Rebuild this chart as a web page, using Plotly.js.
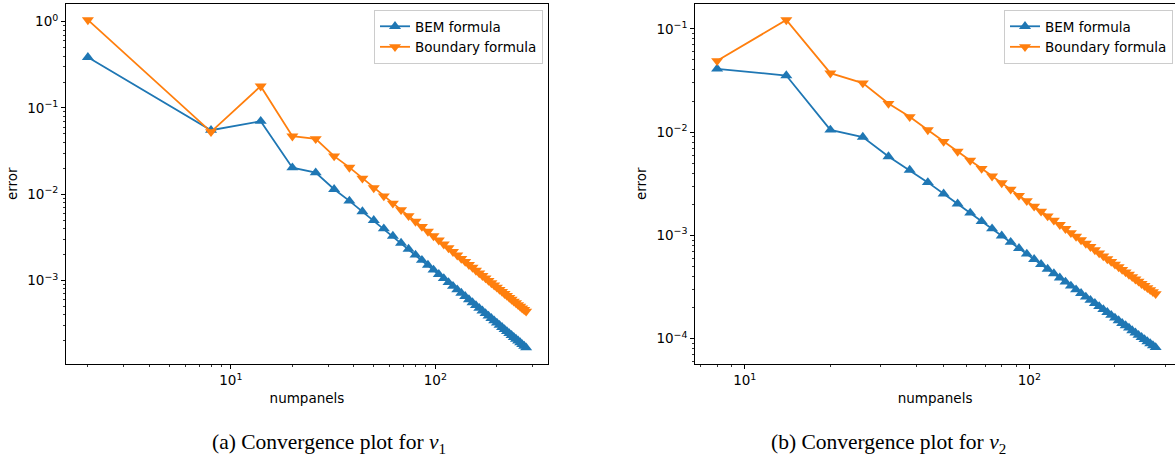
<!DOCTYPE html>
<html>
<head>
<meta charset="utf-8">
<script src="https://cdn.plot.ly/plotly-3.0.1.min.js"></script>
<style>html,body{margin:0;padding:0;background:#fff;}#chart{width:1175px;height:462px;}</style>
</head>
<body>
<div id="chart"></div>
<script>
// ---- data ----
const numpanelsA = [2,8,14,20,26,32,38,44,50,56,62,68,74,80,86,92,98,104,110,116,122,128,134,140,146,152,158,164,170,176,182,188,194,200,206,212,218,224,230,236,242,248,254,260,266,272,278];
const bemA = [0.387,0.0553,0.0703,0.0203,0.0178,0.01143,0.00838,0.00630,0.00500,0.00399,0.00328,0.00272,0.00232,0.00198,0.00172,0.00151,0.00133,0.001183,0.001058,0.000951,0.000860,0.000784,0.000716,0.000656,0.000603,0.000556,0.000515,0.000478,0.000446,0.000416,0.000389,0.000365,0.000343,0.000323,0.000304,0.000287,0.000271,0.000257,0.000244,0.000232,0.000220,0.000210,0.000200,0.000191,0.000182,0.000174,0.000167];
const boundaryA = [1.05,0.0529,0.179,0.0472,0.044,0.0277,0.0205,0.01533,0.01186,0.00953,0.00786,0.00660,0.00562,0.00484,0.00422,0.00371,0.00329,0.00294,0.00264,0.00239,0.00216,0.00197,0.00180,0.00166,0.00153,0.00142,0.00131,0.00122,0.00114,0.00107,0.00100,0.000939,0.000885,0.000835,0.000787,0.000745,0.000705,0.000670,0.000635,0.000605,0.000575,0.000550,0.000524,0.000501,0.000479,0.000460,0.000440];

const numpanelsB = [8,14,20,26,32,38,44,50,56,62,68,74,80,86,92,98,104,110,116,122,128,134,140,146,152,158,164,170,176,182,188,194,200,206,212,218,224,230,236,242,248,254,260,266,272,278];
const bemB = [0.041,0.0353,0.0105,0.00895,0.0058,0.00429,0.00326,0.00253,0.00202,0.00165,0.00137,0.00116,0.000992,0.000859,0.000750,0.000661,0.000587,0.000525,0.000472,0.000427,0.000388,0.000354,0.000324,0.000298,0.000275,0.000254,0.000236,0.000220,0.000205,0.000192,0.000180,0.000169,0.000159,0.000150,0.000141,0.000134,0.000127,0.000120,0.000114,0.000108,0.000103,0.0000984,0.0000939,0.0000897,0.0000858,0.0000822];
const boundaryB = [0.049,0.122,0.0372,0.0298,0.0189,0.01406,0.0105,0.0081,0.00649,0.00531,0.00444,0.00374,0.00322,0.00279,0.00243,0.00216,0.00191,0.00171,0.00154,0.00140,0.00127,0.00116,0.00106,0.000976,0.000905,0.000837,0.000777,0.000723,0.000675,0.000631,0.000591,0.000558,0.000525,0.000495,0.000467,0.000442,0.000419,0.000397,0.000377,0.000359,0.000341,0.000326,0.000311,0.000297,0.000284,0.000272];

const seriesNames = ["BEM formula", "Boundary formula"];
const xTickVals = [10, 100];
const xTickText = ["10<sup>1</sup>", "10<sup>2</sup>"];
const yTickValsA = [1, 0.1, 0.01, 0.001];
const yTickTextA = ["10<sup>0</sup>", "10<sup>−1</sup>", "10<sup>−2</sup>", "10<sup>−3</sup>"];
const yTickValsB = [0.1, 0.01, 0.001, 0.0001];
const yTickTextB = ["10<sup>−1</sup>", "10<sup>−2</sup>", "10<sup>−3</sup>", "10<sup>−4</sup>"];
const captions = ["(a) Convergence plot for <i>ν</i><sub>1</sub>", "(b) Convergence plot for <i>ν</i><sub>2</sub>"];
const xTitle = "numpanels";
const yTitle = "error";

// minor tick positions (2..9 per decade)
function minors(lo, hi) {
  const out = [];
  for (let e = lo; e <= hi; e++) for (let m = 2; m <= 9; m++) out.push(m * Math.pow(10, e));
  return out;
}

const blue = "#1f77b4", orange = "#ff7f0e";
const FONT = {family: "DejaVu Sans", size: 13.5, color: "#000"};

function tr(x, y, name, color, sym, xa, ya, leg) {
  return {x, y, name, type: "scatter", mode: "lines+markers", xaxis: xa, yaxis: ya, legend: leg,
    line: {color, width: 1.8}, marker: {color, symbol: sym, size: 10.5, line: {width: 0}}};
}

const data = [
  tr(numpanelsA, bemA, seriesNames[0], blue, "triangle-up", "x", "y", "legend"),
  tr(numpanelsA, boundaryA, seriesNames[1], orange, "triangle-down", "x", "y", "legend"),
  tr(numpanelsB, bemB, seriesNames[0], blue, "triangle-up", "x2", "y2", "legend2"),
  tr(numpanelsB, boundaryB, seriesNames[1], orange, "triangle-down", "x2", "y2", "legend2"),
];

function axis(extra) {
  return Object.assign({
    type: "log", showgrid: false, zeroline: false, showline: true, linecolor: "#000", linewidth: 1,
    ticks: "outside", ticklen: 4, tickwidth: 1, tickcolor: "#000", tickfont: FONT,
    tickmode: "array", automargin: false, fixedrange: true,
  }, extra);
}

const W = 1175, H = 462;
const yDom = [1 - 364 / H, 1 - 3.5 / H];

const layout = {
  width: W, height: H, margin: {l: 0, r: 0, t: 0, b: 0}, paper_bgcolor: "#fff", plot_bgcolor: "#fff",
  font: FONT, showlegend: true,
  xaxis: axis({domain: [66 / W, 548 / W], range: [0.194, 2.551], tickvals: xTickVals, ticktext: xTickText, mirror: true, anchor: "y",
    minor: {tickmode: "array", tickvals: minors(0, 2), ticks: "outside", ticklen: 2.2, tickwidth: 0.8, tickcolor: "#000"},
    title: {text: xTitle, font: FONT, standoff: 6}}),
  yaxis: axis({domain: yDom, range: [-3.967, 0.211], tickvals: yTickValsA, ticktext: yTickTextA, mirror: true, anchor: "x",
    minor: {tickmode: "array", tickvals: minors(-4, -1), ticks: "outside", ticklen: 2.2, tickwidth: 0.8, tickcolor: "#000"},
    title: {text: yTitle, font: FONT, standoff: 6}}),
  xaxis2: axis({domain: [695.2 / W, 1], range: [0.826, 2.512], tickvals: xTickVals, ticktext: xTickText, mirror: true, anchor: "y2",
    minor: {tickmode: "array", tickvals: minors(0, 2), ticks: "outside", ticklen: 2.2, tickwidth: 0.8, tickcolor: "#000"},
    title: {text: xTitle, font: FONT, standoff: 6}}),
  yaxis2: axis({domain: yDom, range: [-4.245, -0.755], tickvals: yTickValsB, ticktext: yTickTextB, mirror: false, anchor: "x2",
    minor: {tickmode: "array", tickvals: minors(-5, -1), ticks: "outside", ticklen: 2.2, tickwidth: 0.8, tickcolor: "#000"},
    title: {text: yTitle, font: FONT, standoff: 6}}),
  legend: {x: 543 / W, xanchor: "right", y: 1 - 10 / H, yanchor: "top", bgcolor: "rgba(255,255,255,0.8)",
    bordercolor: "#cccccc", borderwidth: 1, font: FONT, tracegroupgap: 0, itemwidth: 30},
  legend2: {x: 1173 / W, xanchor: "right", y: 1 - 10 / H, yanchor: "top", bgcolor: "rgba(255,255,255,0.8)",
    bordercolor: "#cccccc", borderwidth: 1, font: FONT, tracegroupgap: 0, itemwidth: 30},
  annotations: [
    {text: captions[0], xref: "paper", yref: "paper", x: 329 / W, y: 1 - 443 / H, xanchor: "center", yanchor: "middle", showarrow: false,
      font: {family: "Liberation Serif", size: 21.5, color: "#000"}},
    {text: captions[1], xref: "paper", yref: "paper", x: 888 / W, y: 1 - 443 / H, xanchor: "center", yanchor: "middle", showarrow: false,
      font: {family: "Liberation Serif", size: 21.5, color: "#000"}},
  ],
};

Plotly.newPlot("chart", data, layout, {staticPlot: true, displayModeBar: false});
</script>
</body>
</html>
